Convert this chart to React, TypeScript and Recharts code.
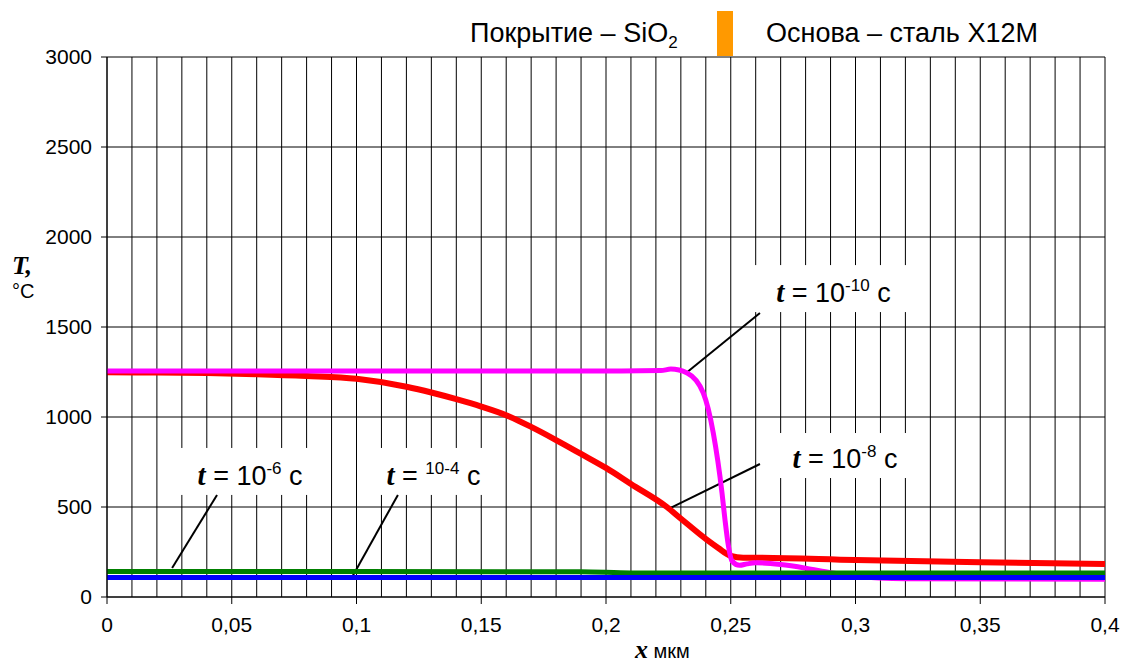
import React from 'react';
import {
  LineChart,
  Line,
  XAxis,
  YAxis,
  CartesianGrid,
  ReferenceLine,
  ReferenceArea
} from 'recharts';

// axis ticks (labelled)
const xTicks = [0, 0.05, 0.1, 0.15, 0.2, 0.25, 0.3, 0.35, 0.4];
const yTicks = [0, 500, 1000, 1500, 2000, 2500, 3000];
// thin vertical grid every 0.01 um
const gridTicks = Array.from({ length: 41 }, (_, i) => i / 100);

// t = 10^-10 s (magenta)
const xT10 = [0, 0.1, 0.2, 0.222, 0.226, 0.2325, 0.239, 0.243, 0.2465, 0.2477, 0.249, 0.2505, 0.2535, 0.2565, 0.26, 0.27, 0.28, 0.29, 0.3, 0.32, 0.4];
const tT10 = [1256, 1256, 1256, 1258, 1266, 1244, 1133, 911, 578, 428, 290, 200, 176, 184, 190, 180, 160, 135, 115, 102, 98];

// t = 10^-8 s (red)
const xT8 = [0, 0.02, 0.04, 0.06, 0.08, 0.1, 0.12, 0.13, 0.14, 0.15, 0.16, 0.17, 0.18, 0.19, 0.2, 0.21, 0.2244, 0.2297, 0.2405, 0.245, 0.25, 0.255, 0.26, 0.3, 0.35, 0.4];
const tT8 = [1248, 1247, 1244, 1238, 1228, 1212, 1168, 1136, 1099, 1058, 1010, 945, 872, 795, 717, 628, 500, 439, 317, 272, 228, 218, 218, 205, 193, 183];

// t = 10^-6 s (green)
const xT6 = [0, 0.1, 0.19, 0.21, 0.3, 0.4];
const tT6 = [141, 141, 140, 134, 134, 134];

// t = 10^-4 s (blue)
const xT4 = [0, 0.2, 0.4];
const tT4 = [108, 108, 108];

const toPoints = (xs: number[], ts: number[]) => xs.map((x, i) => ({ x, t: ts[i] }));

const fmt = (v: number) => String(v).replace('.', ',');
const isMajor = (v: number) => xTicks.some((m) => Math.abs(m - v) < 1e-9);

const SANS = '"Liberation Sans", Arial, sans-serif';
const SERIF = '"Liberation Serif", "Times New Roman", serif';

// annotation boxes: [x1, x2, y1, y2] in data units
const notes = [
  { box: [0.2585, 0.3238, 1583, 1844], exp: '-10', odd: false },
  { box: [0.2657, 0.3258, 661, 911], exp: '-8', odd: false },
  { box: [0.0273, 0.0874, 567, 828], exp: '-6', odd: false },
  { box: [0.1042, 0.1575, 567, 828], exp: '10-4', odd: true }
];
const pointers = [
  [{ x: 0.2321, y: 1244 }, { x: 0.2617, y: 1578 }],
  [{ x: 0.2257, y: 494 }, { x: 0.2617, y: 739 }],
  [{ x: 0.0261, y: 161 }, { x: 0.0441, y: 567 }],
  [{ x: 0.0978, y: 100 }, { x: 0.1166, y: 567 }]
];

function NoteShape(props: any, exp: string, odd: boolean) {
  const { x, y, width, height } = props;
  const cx = x + width / 2;
  const base = y + height - 10;
  return (
    <g>
      <rect x={x} y={y} width={width} height={height} fill="#fff" />
      <text x={cx} y={base} textAnchor="middle" fontFamily={SANS} fontSize={27} fill="#000">
        <tspan fontFamily={SERIF} fontWeight="bold" fontStyle="italic" fontSize={29}>t</tspan>
        <tspan>{odd ? ' = ' : ' = 10'}</tspan>
        <tspan dy={-11} fontSize={17}>{exp}</tspan>
        <tspan dy={11}> c</tspan>
      </text>
    </g>
  );
}

function XTick(props: any) {
  const { x, y, payload } = props;
  if (!isMajor(payload.value)) return null;
  return (
    <g>
      <line x1={x} x2={x} y1={y - 20} y2={y - 13} stroke="#000" />
      <text x={x} y={y} dy="0.71em" textAnchor="middle" fontFamily={SANS} fontSize={21} fill="#000">
        {fmt(payload.value)}
      </text>
    </g>
  );
}

export default function App() {
  return (
    <div style={{ position: 'absolute', left: 0, top: 0, width: 1125, height: 662, background: '#fff' }}>
      <LineChart width={1125} height={662} margin={{ top: 57, right: 20, bottom: 0, left: 0 }}>
        <CartesianGrid stroke="#000" strokeWidth={1} />
        <XAxis
          type="number"
          dataKey="x"
          domain={[0, 0.4]}
          ticks={gridTicks}
          interval={0}
          height={65}
          tickLine={false}
          tickSize={0}
          tickMargin={20}
          stroke="#000"
          tick={<XTick />}
          allowDataOverflow
        />
        <YAxis
          type="number"
          domain={[0, 3000]}
          ticks={yTicks}
          width={107}
          tickSize={6}
          tickMargin={9}
          stroke="#000"
          tick={{ fill: '#000', fontSize: 21, fontFamily: SANS }}
        />
        {notes.map((n, i) => (
          <ReferenceArea
            key={'a' + i}
            x1={n.box[0]}
            x2={n.box[1]}
            y1={n.box[2]}
            y2={n.box[3]}
            shape={(p: any) => NoteShape(p, n.exp, n.odd)}
          />
        ))}
        {pointers.map((s, i) => (
          <ReferenceLine key={'p' + i} segment={s} stroke="#000" strokeWidth={2} />
        ))}
        <Line data={toPoints(xT8, tT8)} dataKey="t" type="monotone" stroke="#FF0000" strokeWidth={6} dot={false} isAnimationActive={false} />
        <Line data={toPoints(xT10, tT10)} dataKey="t" type="monotone" stroke="#FF00FF" strokeWidth={5} dot={false} isAnimationActive={false} />
        <Line data={toPoints(xT6, tT6)} dataKey="t" type="monotone" stroke="#008000" strokeWidth={5} dot={false} isAnimationActive={false} />
        <Line data={toPoints(xT4, tT4)} dataKey="t" type="monotone" stroke="#0000FF" strokeWidth={5} dot={false} isAnimationActive={false} />
      </LineChart>
      <svg width={1125} height={662} style={{ position: 'absolute', left: 0, top: 0, pointerEvents: 'none' }}>
        <text x={470} y={42} fontFamily={SANS} fontSize={27} fill="#000">
          Покрытие – SiO<tspan dy={6} fontSize={17}>2</tspan>
        </text>
        <rect x={717} y={11} width={16} height={45} fill="#FF9900" />
        <text x={766} y={42} fontFamily={SANS} fontSize={27} fill="#000">Основа – сталь Х12М</text>
        <text x={12} y={274} fontFamily={SERIF} fontWeight="bold" fontStyle="italic" fontSize={26} fill="#000">T,</text>
        <text x={12} y={298} fontFamily={SANS} fontSize={20} fill="#000">°C</text>
        <text x={635} y={658} fill="#000">
          <tspan fontFamily={SERIF} fontWeight="bold" fontStyle="italic" fontSize={26}>x</tspan>
          <tspan fontFamily={SANS} fontSize={20}> мкм</tspan>
        </text>
      </svg>
    </div>
  );
}
